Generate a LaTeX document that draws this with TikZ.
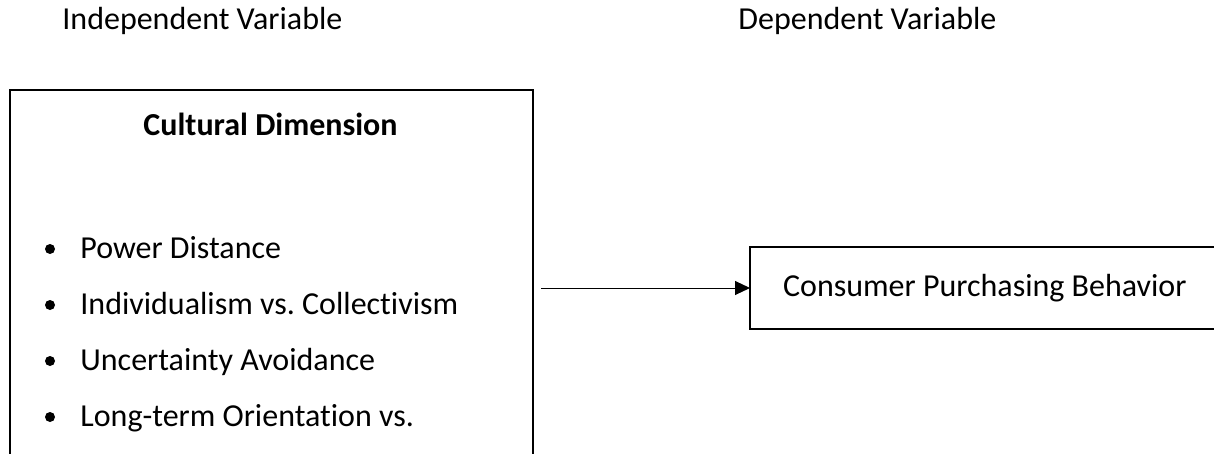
\documentclass[tikz,border=0pt]{standalone}
\usepackage{fontspec}
\setmainfont{Carlito}[Ligatures=NoCommon]
\usetikzlibrary{positioning}
\usetikzlibrary{arrows.meta}
\frenchspacing

\begin{document}
\begin{tikzpicture}[x=0.5pt, y=-0.5pt]
    \tikzset{
    varbox/.style=
    {
        rectangle,
        draw,
        line width = 1.1pt,
        inner sep = 0pt
    },
    label/.style=
    {
        anchor = base west,
        inner sep = 0pt,
        font = \fontsize{16}{19}\selectfont
    },
    link/.style=
    {
        line width = 0.5pt,
        -{Triangle[length=7.5pt, width=7pt]}
    }
}

  \useasboundingbox (0,0) rectangle (1214,454);
  \clip (0,0) rectangle (1214,454);

  % headings
  \node[label] (indep) at (62,30) {Independent Variable};
  \node[label] (dep) at (738,30) {Dependent Variable};

  % boxes
  \node[varbox, anchor=north west, minimum width=261.5pt, minimum height=220pt] (dim) at (9,89) {};
  \node[varbox, draw=none, anchor=west, minimum height=40pt, inner xsep=16pt, text width=260pt, align=flush left,
        font=\fontsize{16}{19}\selectfont] (cpb) at (750,288) {Consumer Purchasing Behavior};
  \draw[line width=1.1pt] (cpb.north east) -- (cpb.north west) -- (cpb.south west) -- (cpb.south east);

  \node[label, anchor=base, font=\fontsize{16}{19}\selectfont\bfseries] (title) at (270.5,136) {Cultural Dimension};

  % dimensions
  \foreach \name/\y in {Power Distance/258, Individualism vs. Collectivism/314,
                        Uncertainty Avoidance/370, Long-term Orientation vs./426}
  {
    \fill (50,\y-9) circle (5);
    \node[label] (item\y) at (80,\y) {\name};
  }

  \draw[link] ([xshift=3.5pt]dim.east |- cpb.west) -- (cpb.west);

\end{tikzpicture}
\end{document}
